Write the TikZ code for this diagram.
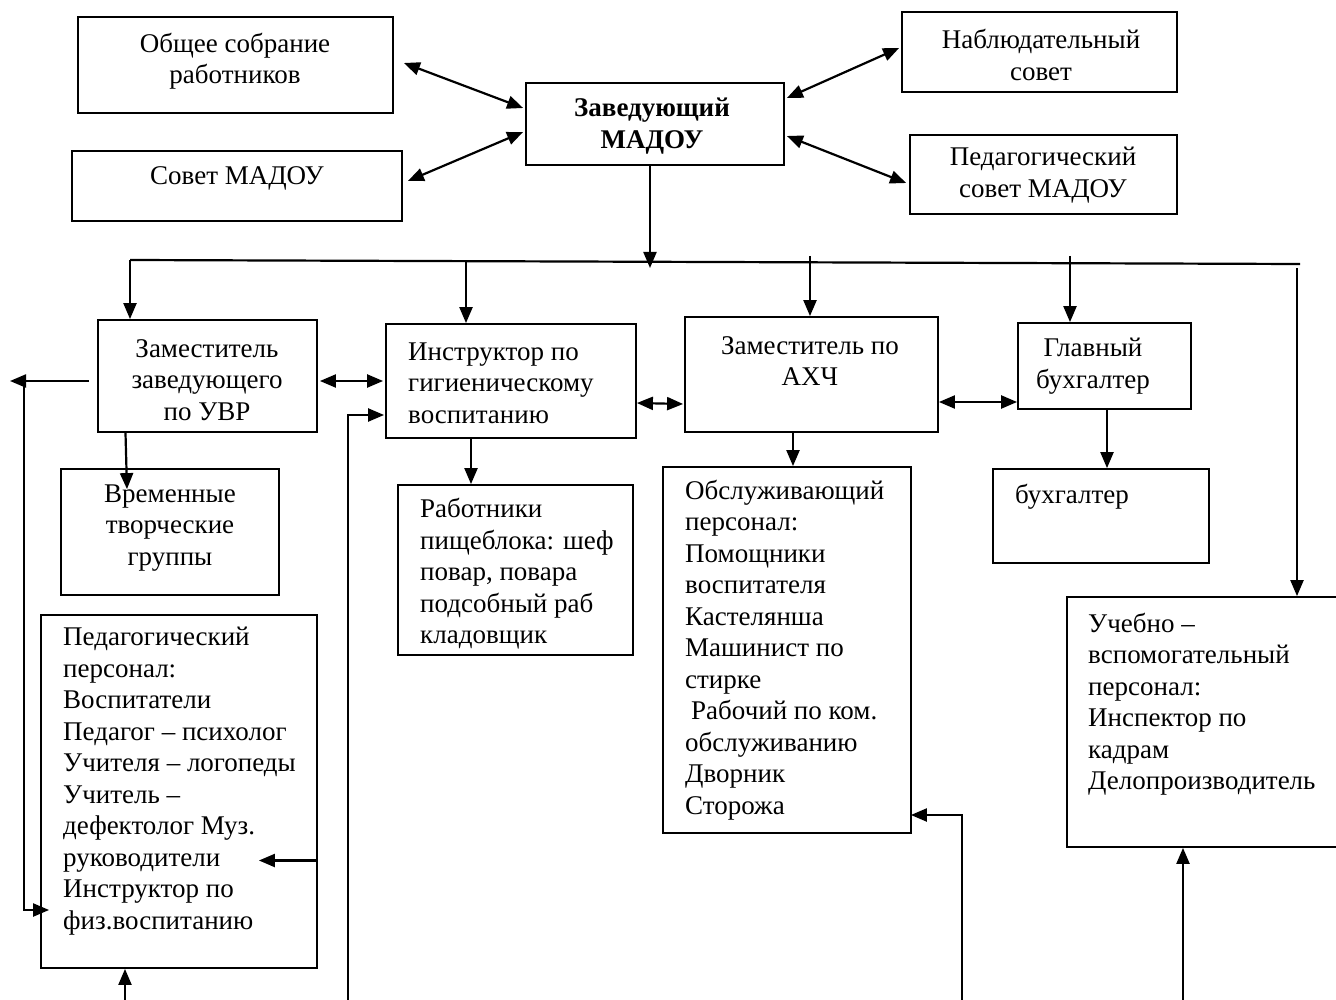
\documentclass[tikz,border=0pt]{standalone}
\usepackage{fontspec}
\setmainfont{Liberation Serif}
\usetikzlibrary{arrows.meta}
\begin{document}
\begin{tikzpicture}[x=1pt,y=-1pt,
  box/.style={draw, line width=1.8pt, inner sep=0pt},
  txt/.style={inner sep=0pt, font=\fontsize{27}{31.5}\selectfont},
  lt/.style={txt, align=left, anchor=west},
  ct/.style={txt, align=center},
  con/.style={line width=2.2pt},
  arr/.style={con, -{Triangle[length=16pt,width=13pt]}},
  dbl/.style={con, {Triangle[length=16pt,width=13pt]}-{Triangle[length=16pt,width=13pt]}},
]
\useasboundingbox (0,0) rectangle (1336,1000);

% boxes
\node[box, minimum width=315pt, minimum height=96pt] (b1) at (235.5,65) {};
\node[box, minimum width=330pt, minimum height=70pt] (b2) at (237,186) {};
\node[box, minimum width=258pt, minimum height=82pt] (zav) at (655,124) {};
\node[box, minimum width=275pt, minimum height=80pt] (nab) at (1039.5,52) {};
\node[box, minimum width=267pt, minimum height=79pt] (ped) at (1043.5,174.5) {};
\node[box, minimum width=219pt, minimum height=112pt] (uvr) at (207.5,376) {};
\node[box, minimum width=250pt, minimum height=114pt] (ins) at (511,381) {};
\node[box, minimum width=253pt, minimum height=115pt] (ahch) at (811.5,374.5) {};
\node[box, minimum width=173pt, minimum height=86pt] (glb) at (1104.5,366) {};
\node[box, minimum width=218pt, minimum height=126pt] (vtg) at (170,532) {};
\node[box, minimum width=235pt, minimum height=170pt] (rab) at (515.5,570) {};
\node[box, minimum width=248pt, minimum height=366pt] (obs) at (787,650) {};
\node[box, minimum width=216pt, minimum height=94pt] (buh) at (1101,516) {};
\node[box, minimum width=276pt, minimum height=353pt] (pp) at (179,791.5) {};
\node[box, minimum width=280pt, minimum height=250pt] (uch) at (1207,722) {};

% texts
\node[ct] (t1) at (235,61) {Общее собрание\\работников};
\node[ct] (t2) at (237,178) {Совет МАДОУ};
\node[ct, font=\fontsize{27}{31.5}\selectfont\bfseries] (tz) at (652,126) {Заведующий\\МАДОУ};
\node[ct] (tn) at (1041,55) {Наблюдательный\\совет};
\node[ct] (tp) at (1043,175) {Педагогический\\совет МАДОУ};
\node[ct] (tu) at (207,380) {Заместитель\\заведующего\\по УВР};
\node[lt] (ti) at (408,383) {Инструктор по\\гигиеническому\\воспитанию};
\node[ct] (ta) at (810,361) {Заместитель по\\АХЧ};
\node[ct] (tg) at (1093,366) {Главный\\бухгалтер};
\node[ct] (tv) at (170,528) {Временные\\творческие\\группы};
\node[lt] (tr) at (420,574) {Работники\\пищеблока: шеф\\повар, повара\\подсобный раб\\кладовщик};
\node[lt] (to) at (685,650) {Обслуживающий\\персонал:\\Помощники\\воспитателя\\Кастелянша\\Машинист по\\стирке\\\hspace*{6pt}Рабочий по ком.\\обслуживанию\\Дворник\\Сторожа};
\node[lt] (tb) at (1015,497) {бухгалтер};
\node[lt] (tpp) at (63,781) {Педагогический\\персонал:\\Воспитатели\\Педагог – психолог\\Учителя – логопеды\\Учитель –\\дефектолог Муз.\\руководители\\Инструктор по\\физ.воспитанию};
\node[lt] (tuc) at (1088,704) {Учебно –\\вспомогательный\\персонал:\\Инспектор по\\кадрам\\Делопроизводитель};

% coordinates for free ends
\coordinate (j0) at (650,268);
\coordinate (busL) at (130,260);
\coordinate (busR) at (1300,264);
\coordinate (j1) at (466,261);
\coordinate (j2) at (810,256);
\coordinate (j3) at (1070,256);
\coordinate (j4) at (1297,268);
\coordinate (l1) at (10,381);
\coordinate (l2) at (24,381);
\coordinate (c0) at (125,1000);
\coordinate (c1) at (348,1000);
\coordinate (c2) at (962,1000);
\coordinate (c3) at (1183,1000);

% top connectors
\draw[dbl] ([shift={(10,-2)}]b1.east) -- ([shift={(-2,-16)}]zav.west);
\draw[dbl] ([shift={(5,-5)}]b2.east) -- ([shift={(-2,8)}]zav.west);
\draw[dbl] ([shift={(-2,-4)}]nab.west) -- ([shift={(2,-26)}]zav.east);
\draw[dbl] ([shift={(2,12)}]zav.east) -- ([shift={(-3,8.5)}]ped.west);

% bus
\draw[arr] ([shift={(-5,0)}]zav.south) -- (j0);
\draw[con] (busL) -- (busR);
\draw[arr] (busL) -- (busL |- uvr.north);
\draw[arr] (j1) -- (j1 |- ins.north);
\draw[arr] (j2) -- (j2 |- ahch.north);
\draw[arr] (j3) -- (j3 |- glb.north);
\draw[arr] (j4) -- (j4 |- uch.north);

% row connectors
\draw[dbl] ([shift={(2,5)}]uvr.east) -- ([shift={(-2,0)}]ins.west);
\draw[dbl] ([shift={(0,22)}]ins.east) -- ([shift={(-1,29.5)}]ahch.west);
\draw[dbl] ([shift={(0,27.5)}]ahch.east) -- ([shift={(0,36)}]glb.west);

% down arrows
\draw[arr] ([shift={(-82,0)}]uvr.south) -- ([shift={(-43,21)}]vtg.north);
\draw[arr] ([shift={(-40,0)}]ins.south) -- ([shift={(-44.5,0)}]rab.north);
\draw[arr] ([shift={(-18.5,0)}]ahch.south) -- ([shift={(6,0)}]obs.north);
\draw[arr] ([shift={(2.5,0)}]glb.south) -- ([shift={(6,0)}]buh.north);

% left side
\draw[arr] ([shift={(-8,5)}]uvr.west) -- (l1);
\draw[arr] (l2) |- ([shift={(9,118.5)}]pp.west);
\draw[arr] ([shift={(0,69)}]pp.east) -- ([shift={(-59,69)}]pp.east);

% bottom
\draw[arr] (c0) -- (c0 |- pp.south);
\draw[arr] (c1) |- ([shift={(-1,34)}]ins.west);
\draw[arr] (c2) |- ([shift={(-1,165)}]obs.east);
\draw[arr] (c3) -- (c3 |- uch.south);
\end{tikzpicture}
\end{document}
